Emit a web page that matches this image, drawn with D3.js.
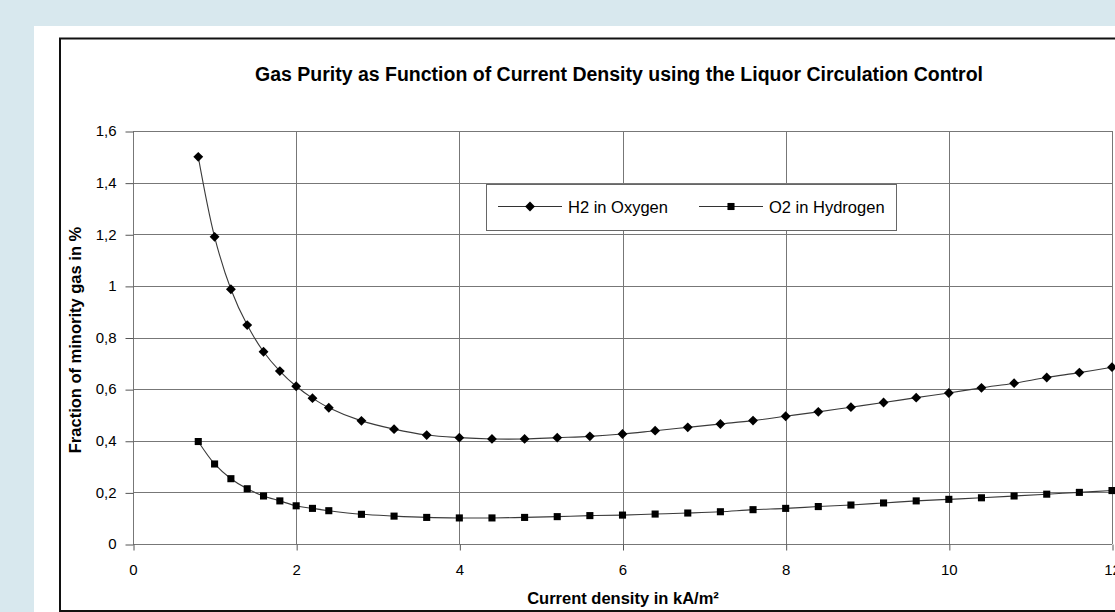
<!DOCTYPE html>
<html><head><meta charset="utf-8">
<script src="https://cdn.jsdelivr.net/npm/d3@7"></script>
<style>
html,body{margin:0;padding:0;background:#d8e8ee;}
svg{display:block;}
text{font-family:"Liberation Sans",Arial,sans-serif;fill:#000;}
</style></head>
<body><svg id="c" width="1115" height="612"></svg>
<script>
const title = "Gas Purity as Function of Current Density using the Liquor Circulation Control";
const xTitle = "Current density in kA/m²";
const yTitle = "Fraction of minority gas in %";
const seriesNames = ["H2 in Oxygen", "O2 in Hydrogen"];
const xTicks = [0, 2, 4, 6, 8, 10, 12];
const yTicks = [0, 0.2, 0.4, 0.6, 0.8, 1, 1.2, 1.4, 1.6];
const currentDensity = [0.8, 1.0, 1.2, 1.4, 1.6, 1.8, 2.0, 2.2, 2.4, 2.8, 3.2, 3.6, 4.0, 4.4, 4.8, 5.2, 5.6, 6.0, 6.4, 6.8, 7.2, 7.6, 8.0, 8.4, 8.8, 9.2, 9.6, 10.0, 10.4, 10.8, 11.2, 11.6, 12.0];
const h2InOxygen = [1.50, 1.19, 0.987, 0.848, 0.745, 0.67, 0.611, 0.565, 0.528, 0.477, 0.445, 0.422, 0.412, 0.407, 0.407, 0.412, 0.417, 0.426, 0.439, 0.452, 0.465, 0.478, 0.495, 0.512, 0.53, 0.548, 0.567, 0.585, 0.605, 0.623, 0.645, 0.664, 0.685];
const o2InHydrogen = [0.397, 0.31, 0.253, 0.214, 0.186, 0.167, 0.148, 0.138, 0.129, 0.115, 0.108, 0.103, 0.101, 0.101, 0.103, 0.106, 0.11, 0.112, 0.116, 0.12, 0.125, 0.133, 0.138, 0.145, 0.151, 0.159, 0.167, 0.173, 0.179, 0.186, 0.193, 0.2, 0.207];

const svg = d3.select("#c");
svg.append("rect").attr("x",34).attr("y",26).attr("width",1081).attr("height",586).attr("fill","#fff");
svg.append("rect").attr("x",60).attr("y",38.5).attr("width",1070).attr("height",572.5)
  .attr("fill","none").attr("stroke","#111").attr("stroke-width",2);

const L=133, R=1112, T=131, B=544;
const x = d3.scaleLinear().domain([0,12]).range([L,R]);
const y = d3.scaleLinear().domain([0,1.6]).range([B,T]);
const fmt = v => String(v).replace(".", ",");

const grid = svg.append("g").attr("stroke","#777").attr("stroke-width",1);
grid.selectAll("line.h").data(yTicks).join("line")
  .attr("x1",L).attr("x2",R).attr("y1",d=>Math.round(y(d))+0.5).attr("y2",d=>Math.round(y(d))+0.5);
grid.selectAll("line.v").data(xTicks).join("line")
  .attr("y1",T).attr("y2",B).attr("x1",d=>Math.round(x(d))+0.5).attr("x2",d=>Math.round(x(d))+0.5);

const yAxis = d3.axisLeft(y).tickValues(yTicks).tickFormat(fmt).tickSize(8).tickPadding(9);
const gy = svg.append("g").attr("transform",`translate(${L+0.5},0)`).call(yAxis);
gy.select(".domain").remove();
gy.selectAll(".tick line").attr("stroke","#555").attr("transform","translate(0,0.5)");
gy.selectAll("text").attr("font-size",15).attr("fill","#000").attr("font-family","Liberation Sans, Arial, sans-serif");

const xAxis = d3.axisBottom(x).tickValues(xTicks).tickFormat(fmt).tickSize(6).tickPadding(14);
const gx = svg.append("g").attr("transform",`translate(0,${B+0.5})`).call(xAxis);
gx.select(".domain").remove();
gx.selectAll(".tick line").attr("stroke","#555").attr("transform","translate(0.5,0)");
gx.selectAll("text").attr("font-size",15).attr("fill","#000").attr("font-family","Liberation Sans, Arial, sans-serif");

svg.append("text").attr("x",619).attr("y",81).attr("text-anchor","middle")
  .attr("font-size",19.5).attr("font-weight","bold").text(title);
svg.append("text").attr("x",623).attr("y",604).attr("text-anchor","middle")
  .attr("font-size",16.5).attr("font-weight","bold").text(xTitle);
svg.append("text").attr("transform","translate(81,340) rotate(-90)").attr("text-anchor","middle")
  .attr("font-size",16.5).attr("font-weight","bold").text(yTitle);

const line = d3.line().curve(d3.curveCatmullRom.alpha(0.5)).x(d=>x(d[0])).y(d=>y(d[1]));
const h2 = currentDensity.map((c,i)=>[c,h2InOxygen[i]]);
const o2 = currentDensity.map((c,i)=>[c,o2InHydrogen[i]]);
const plot = svg.append("g");
plot.append("path").datum(h2).attr("d",line).attr("fill","none").attr("stroke","#3a3a3a").attr("stroke-width",1.1);
plot.append("path").datum(o2).attr("d",line).attr("fill","none").attr("stroke","#3a3a3a").attr("stroke-width",1.1);
const diamond = d3.symbol().type(d3.symbolDiamond2).size(62);
const square = d3.symbol().type(d3.symbolSquare2).size(64);
plot.selectAll("path.h2").data(h2).join("path").attr("class","h2")
  .attr("transform",d=>`translate(${x(d[0])},${y(d[1])})`).attr("d",diamond).attr("fill","#000");
plot.selectAll("path.o2").data(o2).join("path").attr("class","o2")
  .attr("transform",d=>`translate(${x(d[0])},${y(d[1])})`).attr("d",square).attr("fill","#000");

const lg = svg.append("g");
lg.append("rect").attr("x",486.5).attr("y",184.5).attr("width",410).attr("height",46)
  .attr("fill","#fff").attr("stroke","#666").attr("stroke-width",1);
const items = [{name:seriesNames[0], x0:498, sym:diamond},{name:seriesNames[1], x0:699, sym:square}];
items.forEach(it=>{
  lg.append("line").attr("x1",it.x0).attr("x2",it.x0+64).attr("y1",206.5).attr("y2",206.5).attr("stroke","#333");
  lg.append("path").attr("transform",`translate(${it.x0+32},206.5)`).attr("d",it.sym).attr("fill","#000");
  lg.append("text").attr("x",it.x0+70).attr("y",212.5).attr("font-size",16.5).text(it.name);
});
</script></body></html>
